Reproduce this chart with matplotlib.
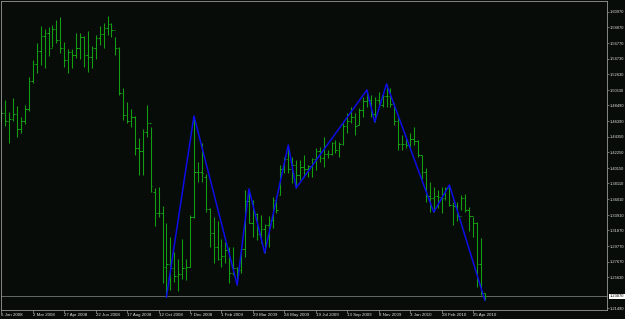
import matplotlib
matplotlib.use("Agg")
import matplotlib.pyplot as plt

# weekly bars, EURUSD-like
highs = [1.4816, 1.4922, 1.4762, 1.4949, 1.4842, 1.4696, 1.4856, 1.5228, 1.5454, 1.5681,
         1.5907, 1.5867, 1.5893, 1.5920, 1.5987, 1.6027, 1.5694, 1.5601, 1.5601, 1.5814,
         1.5814, 1.5774, 1.5840, 1.5641, 1.5787, 1.5907, 1.5947, 1.6040, 1.5947, 1.5760,
         1.5627, 1.5082, 1.4895, 1.4802, 1.4709, 1.4416, 1.4536, 1.4856, 1.4563, 1.3751,
         1.3764, 1.3511, 1.3285, 1.3099, 1.2899, 1.2806, 1.3072, 1.2806, 1.3392, 1.4710,
         1.4097, 1.4350, 1.3937, 1.3485, 1.3365, 1.3312, 1.3072, 1.3032, 1.2966, 1.2966,
         1.2700, 1.2953, 1.3720, 1.3738, 1.3591, 1.3418, 1.3392, 1.3272, 1.3378, 1.3631,
         1.3631, 1.4057, 1.4163, 1.4323, 1.4163, 1.4124, 1.4124, 1.4190, 1.4057, 1.4150,
         1.4283, 1.4296, 1.4430, 1.4256, 1.4363, 1.4390, 1.4363, 1.4616, 1.4749, 1.4829,
         1.4749, 1.4816, 1.4962, 1.5055, 1.4989, 1.4962, 1.5028, 1.5015, 1.5135, 1.5082,
         1.4882, 1.4696, 1.4456, 1.4416, 1.4483, 1.4563, 1.4390, 1.4190, 1.4017, 1.3831,
         1.3764, 1.3724, 1.3764, 1.3770, 1.3791, 1.3565, 1.3565, 1.3658, 1.3671, 1.3498,
         1.3365, 1.3298, 1.3086, 1.2354]
lows = [1.4629, 1.4576, 1.4350, 1.4643, 1.4430, 1.4483, 1.4603, 1.4776, 1.5148, 1.5281,
        1.5388, 1.5348, 1.5508, 1.5627, 1.5681, 1.5547, 1.5361, 1.5281, 1.5348, 1.5481,
        1.5468, 1.5361, 1.5295, 1.5348, 1.5468, 1.5654, 1.5614, 1.5787, 1.5760, 1.5521,
        1.4988, 1.4656, 1.4616, 1.4563, 1.4190, 1.3924, 1.3924, 1.4430, 1.3698, 1.3245,
        1.3365, 1.2487, 1.2300, 1.2394, 1.2500, 1.2380, 1.2540, 1.2527, 1.2700, 1.3352,
        1.3831, 1.3831, 1.3431, 1.2966, 1.2753, 1.2793, 1.2700, 1.2753, 1.2487, 1.2593,
        1.2460, 1.2620, 1.2833, 1.3285, 1.3099, 1.3059, 1.3019, 1.2886, 1.2966, 1.3219,
        1.3418, 1.3658, 1.3950, 1.3950, 1.3817, 1.3751, 1.3857, 1.3897, 1.3897, 1.3897,
        1.3990, 1.4097, 1.4030, 1.4150, 1.4190, 1.4216, 1.4163, 1.4323, 1.4483, 1.4616,
        1.4456, 1.4589, 1.4696, 1.4829, 1.4696, 1.4629, 1.4829, 1.4829, 1.4829, 1.4829,
        1.4589, 1.4257, 1.4257, 1.4283, 1.4257, 1.4323, 1.4163, 1.3871, 1.3565, 1.3431,
        1.3431, 1.3485, 1.3418, 1.3591, 1.3511, 1.3259, 1.3312, 1.3458, 1.3431, 1.3179,
        1.3099, 1.2433, 1.2327, 1.2260]
opens = [1.4720, 1.4750, 1.4640, 1.4670, 1.4730, 1.4540, 1.4640, 1.4800, 1.5180, 1.5400,
         1.5580, 1.5770, 1.5810, 1.5620, 1.5870, 1.5720, 1.5620, 1.5450, 1.5560, 1.5520,
         1.5620, 1.5760, 1.5520, 1.5500, 1.5620, 1.5750, 1.5800, 1.5880, 1.5930, 1.5850,
         1.5620, 1.5020, 1.4720, 1.4640, 1.4700, 1.4280, 1.4240, 1.4500, 1.4620, 1.3700,
         1.3420, 1.3420, 1.2700, 1.2740, 1.2680, 1.2580, 1.2600, 1.2690, 1.2700, 1.3370,
         1.3960, 1.3960, 1.3900, 1.3470, 1.3150, 1.2970, 1.2800, 1.2850, 1.2920, 1.2620,
         1.2680, 1.2660, 1.2940, 1.3580, 1.3290, 1.3400, 1.3140, 1.3200, 1.3260, 1.3330,
         1.3590, 1.3660, 1.4010, 1.4140, 1.4000, 1.4060, 1.3920, 1.4030, 1.4000, 1.4040,
         1.4140, 1.4240, 1.4150, 1.4200, 1.4200, 1.4350, 1.4260, 1.4330, 1.4570, 1.4640,
         1.4690, 1.4590, 1.4790, 1.4910, 1.4920, 1.4730, 1.4920, 1.4860, 1.4980, 1.4970,
         1.4870, 1.4640, 1.4330, 1.4330, 1.4320, 1.4400, 1.4370, 1.4190, 1.3960, 1.3650,
         1.3620, 1.3640, 1.3630, 1.3620, 1.3750, 1.3530, 1.3510, 1.3380, 1.3620, 1.3460,
         1.3380, 1.3280, 1.2740, 1.2354]
closes = [1.4750, 1.4640, 1.4670, 1.4730, 1.4540, 1.4640, 1.4800, 1.5180, 1.5400, 1.5580,
          1.5770, 1.5810, 1.5620, 1.5870, 1.5720, 1.5620, 1.5450, 1.5560, 1.5520, 1.5620,
          1.5760, 1.5520, 1.5500, 1.5620, 1.5750, 1.5800, 1.5880, 1.5930, 1.5850, 1.5620,
          1.5020, 1.4720, 1.4640, 1.4700, 1.4280, 1.4240, 1.4500, 1.4620, 1.3780, 1.3420,
          1.3420, 1.2700, 1.2740, 1.2680, 1.2580, 1.2600, 1.2690, 1.2700, 1.3370, 1.3960,
          1.3960, 1.3950, 1.3470, 1.3150, 1.2970, 1.2800, 1.2850, 1.2920, 1.2620, 1.2680,
          1.2660, 1.2940, 1.3580, 1.3290, 1.3450, 1.3140, 1.3200, 1.3260, 1.3330, 1.3590,
          1.3460, 1.4010, 1.4140, 1.4000, 1.4060, 1.3920, 1.4030, 1.4000, 1.4040, 1.4140,
          1.4240, 1.4150, 1.4200, 1.4200, 1.4350, 1.4260, 1.4330, 1.4570, 1.4640, 1.4690,
          1.4570, 1.4790, 1.4910, 1.4920, 1.4730, 1.4920, 1.4860, 1.4980, 1.4970, 1.4870,
          1.4640, 1.4330, 1.4330, 1.4320, 1.4400, 1.4370, 1.4190, 1.3960, 1.3650, 1.3620,
          1.3640, 1.3630, 1.3620, 1.3750, 1.3530, 1.3510, 1.3380, 1.3620, 1.3460, 1.3380,
          1.3280, 1.2740, 1.2380, 1.2307]

# zigzag turning points (bar index, price)
zz_idx = [42, 49, 60, 63, 67, 73, 75, 93, 95, 98, 110, 114, 123]
zz_val = [1.2300, 1.4710, 1.2460, 1.3738, 1.2886, 1.4323, 1.3751, 1.5055, 1.4629, 1.5135,
          1.3431, 1.3791, 1.2260]

price_ticks = [1.60970, 1.58870, 1.56770, 1.54730, 1.52630, 1.50530, 1.48490, 1.46390,
               1.44350, 1.42250, 1.40150, 1.38110, 1.36010, 1.33910, 1.31870, 1.29770,
               1.27670, 1.25630, 1.21490]
date_labels = ["6 Jan 2008", "2 Mar 2008", "27 Apr 2008", "22 Jun 2008", "17 Aug 2008",
               "12 Oct 2008", "7 Dec 2008", "1 Feb 2009", "29 Mar 2009", "24 May 2009",
               "19 Jul 2009", "13 Sep 2009", "8 Nov 2009", "3 Jan 2010", "28 Feb 2010",
               "25 Apr 2010"]
last_price = 1.2307

bg = "#080c08"
bar_col = "#12a012"
frame_col = "#9a9a9a"
txt_col = "#e0e0e0"

W, H = 625, 319
fig = plt.figure(figsize=(W / 100, H / 100), dpi=100, facecolor=bg)
ax = fig.add_axes([1 / W, 1 - 309.5 / H, 606 / W, 308.5 / H], facecolor=bg)

idx = list(range(len(highs)))
ax.vlines(idx, lows, highs, colors=bar_col, linewidth=0.75)
ax.hlines(opens, [i - 0.4 for i in idx], idx, colors=bar_col, linewidth=0.75)
ax.hlines(closes, idx, [i + 0.4 for i in idx], colors=bar_col, linewidth=0.75)

ax.plot(zz_idx, zz_val, color="#0c0ce6", linewidth=1.1, zorder=5)

# current price line + box
ax.axhline(last_price, color="#8c8c8c", linewidth=0.5, zorder=1)
ax.text(1.004, last_price, "%.5f" % last_price, transform=ax.get_yaxis_transform(),
        fontsize=2.9, family="Liberation Sans", color="black", va="center", ha="left",
        bbox=dict(boxstyle="square,pad=0.2", fc="white", ec="none"), clip_on=False, zorder=10)

ax.set_xlim(-0.10, 154.1)
ax.set_ylim(1.21338, 1.62394)

for s in ax.spines.values():
    s.set_color(frame_col)
    s.set_linewidth(0.6)

ax.yaxis.tick_right()
ax.set_yticks(price_ticks)
ax.set_yticklabels(["%.5f" % p for p in price_ticks])
ax.set_xticks([8 * k for k in range(len(date_labels))])
ax.set_xticklabels(date_labels)
ax.tick_params(axis="both", colors=frame_col, labelcolor=txt_col, labelsize=3.2,
               length=2.2, width=0.5, pad=0.6)
ax.tick_params(axis="y", labelsize=2.9, length=1.4, pad=0.4)
for lab in ax.get_xticklabels():
    lab.set_ha("left")
    lab.set_family("Liberation Sans")
for lab in ax.get_yticklabels():
    lab.set_family("Liberation Sans")

fig.savefig("out.png", dpi=100, facecolor=bg)
